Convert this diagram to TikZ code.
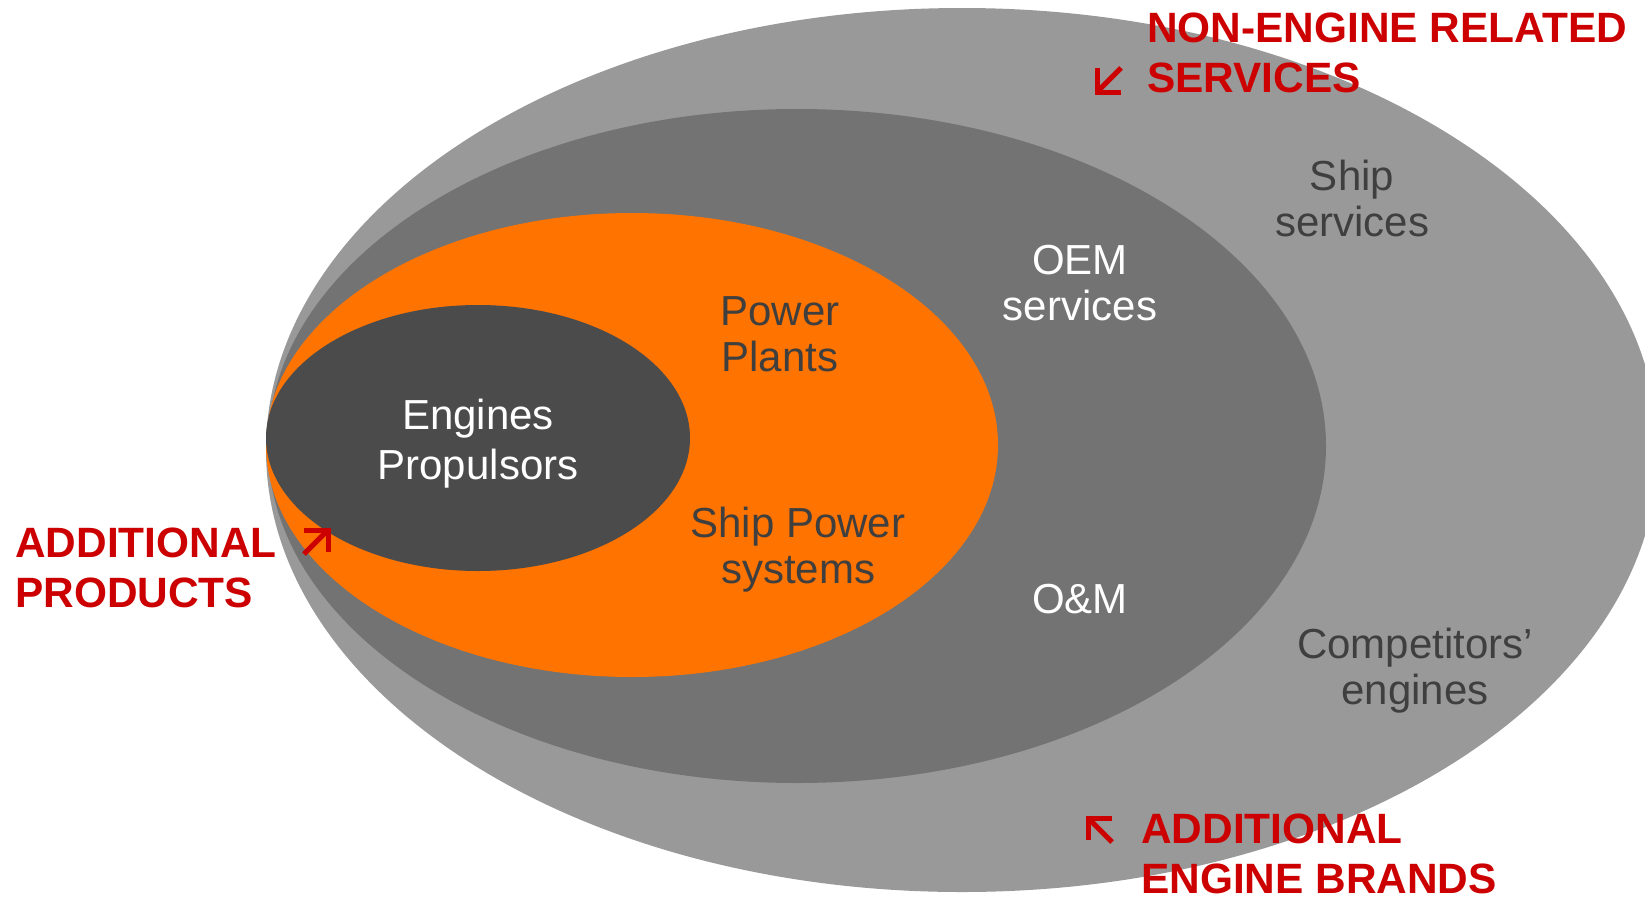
\documentclass[tikz,border=0pt]{standalone}
\usepackage{fontspec}
\setmainfont{Liberation Sans}
\usetikzlibrary{calc}

\definecolor{ringouter}{HTML}{999999}
\definecolor{ringmid}{HTML}{737373}
\definecolor{ringorange}{HTML}{FF7300}
\definecolor{ringcore}{HTML}{4B4B4B}
\definecolor{brandred}{HTML}{CC0000}
\definecolor{darktext}{HTML}{3F3F3F}

\begin{document}
\begin{tikzpicture}[x=1pt,y=-1pt,
  txt/.style={inner sep=0pt, font=\fontsize{42}{46}\selectfont, align=center, anchor=north},
  darklbl/.style={txt, text=darktext},
  lightlbl/.style={txt, text=white},
  redlbl/.style={inner sep=0pt, font=\fontsize{42.4}{50}\selectfont\bfseries, align=left, anchor=north west, text=brandred},
  redarrow/.style={draw=brandred, line width=5pt, line join=miter, line cap=butt}]

\clip (0,0) rectangle (1645,900);
\fill[white] (0,0) rectangle (1645,900);

% nested market ellipses
\fill[ringouter]  (962,450) ellipse [x radius=696, y radius=442];
\fill[ringmid]    (797,446) ellipse [x radius=529, y radius=337];
\fill[ringorange] (632,445) ellipse [x radius=366, y radius=232];
\fill[ringcore]   (478,438) ellipse [x radius=212, y radius=133];

% labels inside the rings
\node[lightlbl, font=\fontsize{42}{50}\selectfont] (engines) at (478,399) {Engines\\Propulsors};
\node[darklbl]  (plants)   at (780,296)  {Power\\Plants};
\node[darklbl]  (shippow)  at (798,507)  {Ship Power\\systems};
\node[lightlbl] (oem)      at (1080,245) {OEM\\services};
\node[lightlbl] (om)       at (1080,584) {O\&M};
\node[darklbl]  (shipserv) at (1352,160) {Ship\\services};
\node[darklbl]  (compet)   at (1415,628) {Competitors’\\engines};

% growth directions
\node[redlbl] (nonengine) at (1147,13)  {NON-ENGINE RELATED\\SERVICES};
\node[redlbl] (addprod)   at (15,528)   {ADDITIONAL\\PRODUCTS};
\node[redlbl] (addbrand)  at (1141,814) {ADDITIONAL\\ENGINE BRANDS};

% arrow pointing down-left
\coordinate (tipA) at (1097,92);
\draw[redarrow] ($(tipA)+(24,-24)$) -- ($(tipA)+(2,-2)$);
\draw[redarrow] ($(tipA)+(0,-24)$) -- (tipA) -- ($(tipA)+(24,0)$);

% arrow pointing up-left
\coordinate (tipB) at (1088,818);
\draw[redarrow] ($(tipB)+(24,24)$) -- ($(tipB)+(2,2)$);
\draw[redarrow] ($(tipB)+(0,22)$) -- (tipB) -- ($(tipB)+(24,0)$);

% arrow pointing up-right
\coordinate (tipC) at (328,530);
\draw[redarrow] ($(tipC)+(-24,24)$) -- ($(tipC)+(-2,2)$);
\draw[redarrow] ($(tipC)+(-24,0)$) -- (tipC) -- ($(tipC)+(0,22)$);

\end{tikzpicture}
\end{document}
